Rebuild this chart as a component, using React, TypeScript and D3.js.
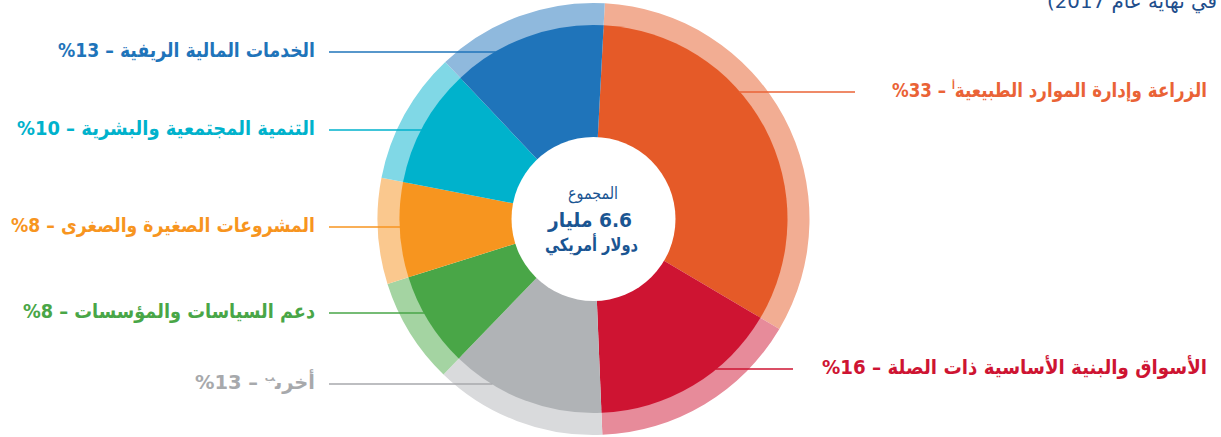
import React from 'react';
import * as d3 from 'd3';

const categories = [
  'الزراعة وإدارة الموارد الطبيعية',
  'الأسواق والبنية الأساسية ذات الصلة',
  'أخرى',
  'دعم السياسات والمؤسسات',
  'المشروعات الصغيرة والصغرى',
  'التنمية المجتمعية والبشرية',
  'الخدمات المالية الريفية',
];
const shares = [33, 16, 13, 8, 8, 10, 13];
const notes = ['أ', '', 'ب', '', '', '', ''];
const darkColors = ['#E55A28', '#CE1432', '#B0B3B6', '#49A647', '#F7951F', '#00B2CC', '#1F74BA'];
const lightColors = ['#F2AD93', '#E78B9A', '#D9DADC', '#A4D4A2', '#FAC88E', '#80D8E6', '#8FB9DD'];
const textColors = ['#EA6336', '#CE1432', '#A7A9AC', '#49A647', '#F7951F', '#00B2CC', '#1F74BA'];

const centerTitle = 'المجموع';
const centerValue = '6.6 مليار';
const centerUnit = 'دولار أمريكي';
const topNote = 'في نهاية عام 2017)';

// layout (positions only)
const W = 1221, H = 437;
const cx = 593.5, cy = 219;
const rHole = 82, rPie = 194, rRing = 216;
const labelLayout = [
  { side: 'right', y: 92, xText: 1207, xLine: 855, width: 315 },
  { side: 'right', y: 369, xText: 1207, xLine: 793, width: 385 },
  { side: 'left', y: 384, xText: 315, xLine: 329, width: 120 },
  { side: 'left', y: 313, xText: 315, xLine: 329, width: 292 },
  { side: 'left', y: 227, xText: 315, xLine: 329, width: 304 },
  { side: 'left', y: 130, xText: 315, xLine: 329, width: 298 },
  { side: 'left', y: 52, xText: 315, xLine: 329, width: 257 },
];

const FONT = '"DejaVu Sans", sans-serif';

export default function App() {
  const pie = d3
    .pie<number>()
    .sort(null)
    .startAngle((3 * Math.PI) / 180)
    .endAngle((363 * Math.PI) / 180);
  const arcs = pie(shares);
  const ringArc = d3.arc<d3.PieArcDatum<number>>().innerRadius(rPie - 4).outerRadius(rRing);
  const pieArc = d3.arc<d3.PieArcDatum<number>>().innerRadius(0).outerRadius(rPie);

  return (
    <svg width={W} height={H} style={{ position: 'absolute', left: 0, top: 0 }} fontFamily={FONT}>
      <text
        x={1217}
        y={8}
        direction="rtl"
        textAnchor="start"
        fontSize={20}
        fill="#1F4E8C"
        textLength={170}
        lengthAdjust="spacingAndGlyphs"
      >
        {topNote}
      </text>
      <g transform={`translate(${cx},${cy})`}>
        {arcs.map((a, i) => (
          <path key={'r' + i} d={ringArc(a) || ''} fill={lightColors[i]} />
        ))}
        {arcs.map((a, i) => (
          <path key={'p' + i} d={pieArc(a) || ''} fill={darkColors[i]} />
        ))}
        <circle r={rHole} fill="#fff" />
      </g>
      {labelLayout.map((l, i) => {
        const dy = l.y - cy;
        const dx = Math.sqrt(rPie * rPie - dy * dy) - 1;
        const xEnd = l.side === 'left' ? cx - dx : cx + dx;
        return (
          <line
            key={'l' + i}
            x1={l.xLine}
            x2={xEnd}
            y1={l.y}
            y2={l.y}
            stroke={textColors[i]}
            strokeWidth={1.3}
          />
        );
      })}
      {labelLayout.map((l, i) => (
        <text
          key={'t' + i}
          x={l.xText}
          y={l.y + 5}
          direction="rtl"
          textAnchor="start"
          fontSize={20}
          fontWeight="bold"
          fill={textColors[i]}
          textLength={l.width}
          lengthAdjust="spacingAndGlyphs"
        >
          {categories[i]}
          {notes[i] ? (
            <tspan fontSize={10} dy={-8}>
              {notes[i]}
            </tspan>
          ) : null}
          {notes[i] ? <tspan dy={8}>{` – ${shares[i]}%`}</tspan> : ` – ${shares[i]}%`}
        </text>
      ))}
      <text
        x={593}
        y={199}
        textAnchor="middle"
        fontSize={17}
        fill="#1A5592"
        direction="rtl"
        textLength={50}
        lengthAdjust="spacingAndGlyphs"
      >
        {centerTitle}
      </text>
      <text
        x={590}
        y={227}
        textAnchor="middle"
        fontSize={20}
        fontWeight="bold"
        fill="#1A5592"
        direction="rtl"
        textLength={84}
        lengthAdjust="spacingAndGlyphs"
      >
        {centerValue}
      </text>
      <text
        x={591.5}
        y={251}
        textAnchor="middle"
        fontSize={18}
        fontWeight="bold"
        fill="#1A5592"
        direction="rtl"
        textLength={93}
        lengthAdjust="spacingAndGlyphs"
      >
        {centerUnit}
      </text>
    </svg>
  );
}
